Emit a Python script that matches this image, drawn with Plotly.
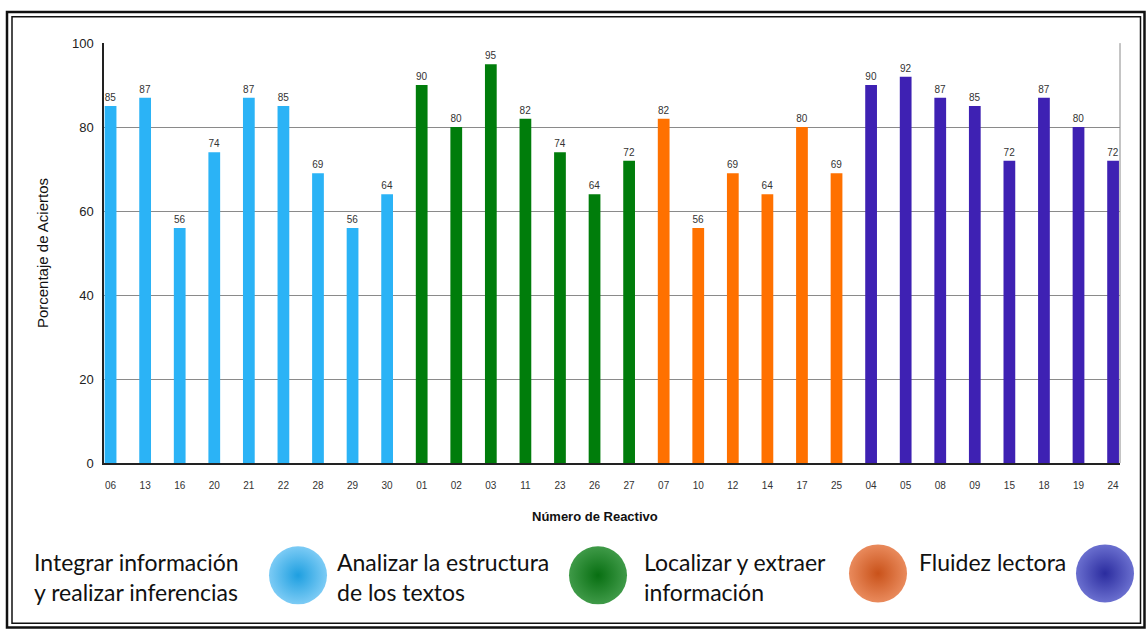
import plotly.graph_objects as go

W = 1147
H = 639


def py(y_ref):
    """reference pixel row -> paper fraction"""
    return 1 - y_ref / H


def px(x_ref):
    return x_ref / W


groups = ["Integrar información<br>y realizar inferencias",
          "Analizar la estructura<br>de los textos",
          "Localizar y extraer<br>información",
          "Fluidez lectora"]
colors = ["#2BB3F6", "#007D0B", "#FF7100", "#3E21B3"]
sphere_colors = ["#1E9FE0", "#086F12", "#C9521A", "#2B2C9F"]
highlights = ["#7CCBF5", "#3F9A48", "#E98A5C", "#6A6FCF"]

reactivos_integrar = ["06", "13", "16", "20", "21", "22", "28", "29", "30"]
valores_integrar = [85, 87, 56, 74, 87, 85, 69, 56, 64]
reactivos_analizar = ["01", "02", "03", "11", "23", "26", "27"]
valores_analizar = [90, 80, 95, 82, 74, 64, 72]
reactivos_localizar = ["07", "10", "12", "14", "17", "25"]
valores_localizar = [82, 56, 69, 64, 80, 69]
reactivos_fluidez = ["04", "05", "08", "09", "15", "18", "19", "24"]
valores_fluidez = [90, 92, 87, 85, 72, 87, 80, 72]

all_x = [reactivos_integrar, reactivos_analizar, reactivos_localizar, reactivos_fluidez]
all_y = [valores_integrar, valores_analizar, valores_localizar, valores_fluidez]
order = sum(all_x, [])

fig = go.Figure()
for xs, ys, c in zip(all_x, all_y, colors):
    fig.add_trace(go.Bar(
        x=xs, y=ys, marker=dict(color=c, line=dict(width=0)),
        width=0.34, text=[str(v) for v in ys], textposition="outside",
        textfont=dict(size=10, color="#333333", family="Liberation Sans"),
        cliponaxis=False, showlegend=False, hoverinfo="x+y"))

# legend spheres on a separate full-page axis (page pixel space)
sphere_x = [298, 598, 878, 1105]
sphere_y = [582, 582, 580, 580]
for sx, sy, c, h in zip(sphere_x, sphere_y, sphere_colors, highlights):
    fig.add_trace(go.Scatter(
        x=[sx], y=[sy], mode="markers", xaxis="x2", yaxis="y2",
        marker=dict(size=58, color=h, line=dict(width=0),
                    gradient=dict(type="radial", color=c)),
        showlegend=False, hoverinfo="skip", cliponaxis=False))

x0, x1 = px(104), px(1120)
y0, y1 = py(467), py(37)

fig.update_layout(
    width=W, height=H,
    margin=dict(l=0, r=0, t=0, b=0),
    paper_bgcolor="white", plot_bgcolor="rgba(0,0,0,0)",
    barmode="overlay",
    font=dict(family="Liberation Sans", color="#222222"),
    xaxis=dict(domain=[x0, x1], type="category", categoryorder="array",
               categoryarray=order, range=[-0.19, 29.2], anchor="y",
               showline=True, linecolor="#222222", linewidth=1.5,
               ticks="", tickfont=dict(size=10, color="#333333"),
               ticklabelstandoff=12, showgrid=False, fixedrange=True),
    yaxis=dict(domain=[y0, y1], range=[0, 100], dtick=20, anchor="x",
               showline=True, linecolor="#222222", linewidth=1.5,
               gridcolor="#8a8a8a", gridwidth=1, zeroline=False,
               ticks="", tickfont=dict(size=13, color="#222222"),
               ticklabelstandoff=6, fixedrange=True),
    xaxis2=dict(domain=[0, 1], range=[0, W], visible=False, fixedrange=True, anchor="y2"),
    yaxis2=dict(domain=[0, 1], range=[H, 0], visible=False, fixedrange=True, anchor="x2"),
)

shapes = [
    dict(type="line", xref="paper", yref="paper", x0=x1, x1=x1, y0=y0, y1=y1,
         line=dict(color="#8a8a8a", width=1)),
    dict(type="rect", xref="paper", yref="paper", x0=px(7), x1=px(1144.5),
         y0=py(635.5), y1=py(5), line=dict(color="#111111", width=2.5)),
    dict(type="rect", xref="paper", yref="paper", x0=px(12), x1=px(1140.5),
         y0=py(631), y1=py(10), line=dict(color="#111111", width=1.5)),
]
fig.update_layout(shapes=shapes)

annotations = [
    dict(text="Porcentaje de Aciertos", x=px(42), y=py(252), xref="paper", yref="paper",
         textangle=-90, showarrow=False, font=dict(size=15, color="#111111"),
         xanchor="center", yanchor="middle"),
    dict(text="<b>Número de Reactivo</b>", x=px(595), y=py(522), xref="paper", yref="paper",
         showarrow=False, font=dict(size=13, color="#111111"),
         xanchor="center", yanchor="middle"),
]
label_x = [32, 335, 642, 917]
for lx, g in zip(label_x, groups):
    two = "<br>" in g
    annotations.append(dict(
        text=g, x=px(lx), y=py(584 if two else 568), xref="paper", yref="paper",
        showarrow=False, align="left", xanchor="left", yanchor="middle",
        font=dict(size=23, color="#111111", family="Lato")))
fig.update_layout(annotations=annotations)

fig.write_html(
    "out.html", config={"displayModeBar": False},
    post_script=("document.documentElement.style.margin='0';"
                 "document.body.style.margin='0';document.body.style.padding='0';"
                 "document.documentElement.style.overflow='hidden';"
                 "document.body.style.overflow='hidden';"))
